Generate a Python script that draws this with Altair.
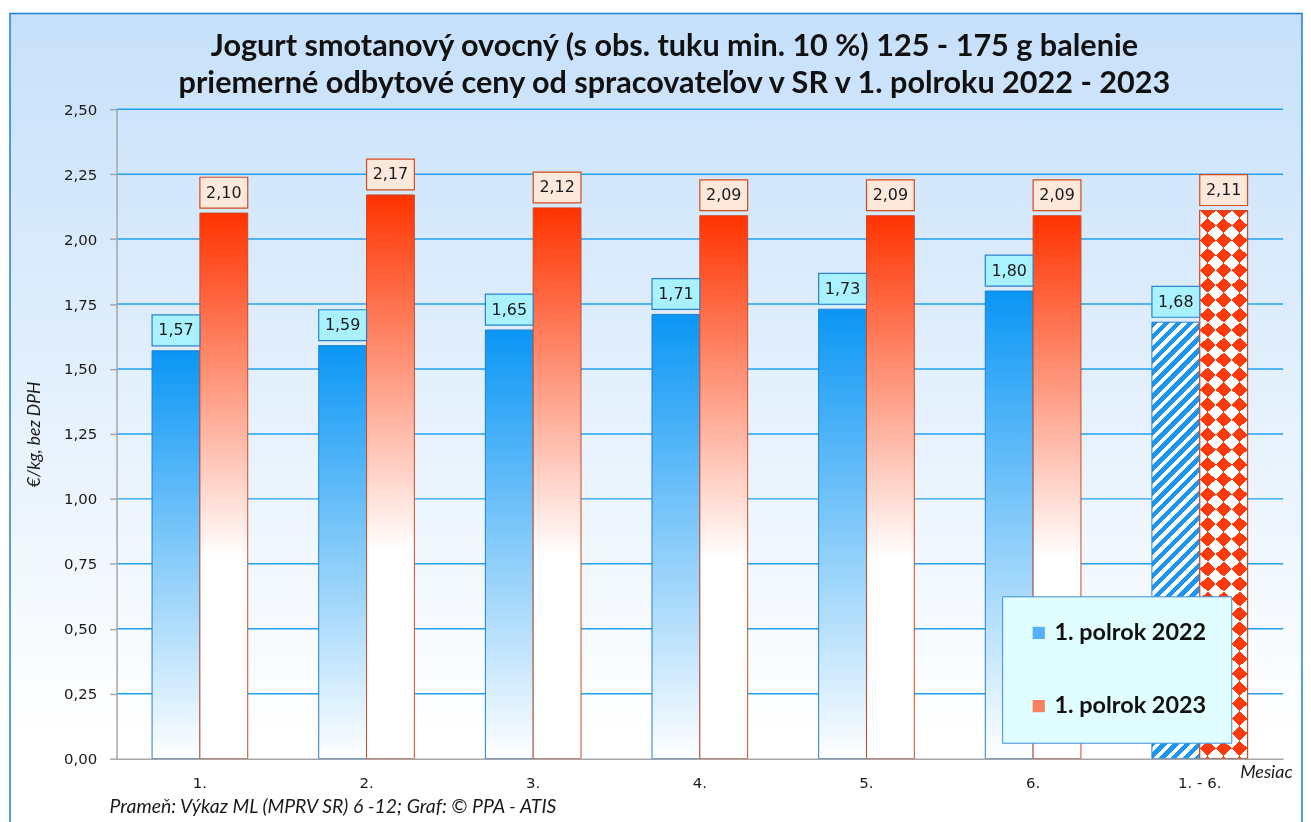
import math
import altair as alt
import pandas as pd

# ---------------- data ----------------
categories = ["1.", "2.", "3.", "4.", "5.", "6.", "1. - 6."]
series = ["1. polrok 2022", "1. polrok 2023"]
values_2022 = [1.57, 1.59, 1.65, 1.71, 1.73, 1.80, 1.68]
values_2023 = [2.10, 2.17, 2.12, 2.09, 2.09, 2.09, 2.11]
y_ticks = [0, 0.25, 0.5, 0.75, 1.0, 1.25, 1.5, 1.75, 2.0, 2.25, 2.5]
title_lines = [
    "Jogurt smotanový ovocný (s obs. tuku min. 10 %) 125 - 175 g balenie",
    "priemerné odbytové ceny od spracovateľov v SR v 1. polroku 2022 - 2023",
]
y_title = "€/kg, bez DPH"
x_title = "Mesiac"
source_text = "Prameň: Výkaz ML (MPRV SR) 6 -12; Graf: © PPA - ATIS"

rows = []
for vals, s in ((values_2022, series[0]), (values_2023, series[1])):
    for c, v in zip(categories, vals):
        rows.append({
            "cat": c, "series": s, "value": v,
            "label": f"{v:.2f}".replace(".", ","),
            "kind": "total" if c == "1. - 6." else "month",
        })
df = pd.DataFrame(rows)
grid_df = pd.DataFrame({"value": y_ticks[1:]})

# ---------------- layout / style ----------------
W, H = 1171, 652
Y_MAX = 2.5
P_IN, P_OUT = 0.426, 0.213
step = W / (len(categories) - P_IN + 2 * P_OUT)
bar_w = step * (1 - P_IN) / 2

BLUE = "#0a96f5"
RED = "#ff3300"


def lin(stops, x1=0, y1=0, x2=0, y2=1):
    return alt.LinearGradient(
        gradient="linear",
        stops=[alt.GradientStop(offset=o, color=c) for o, c in stops],
        x1=x1, y1=y1, x2=x2, y2=y2,
    )


def stripes(bw, bh, sh, sv, down, period, duty, shift, on, off):
    """Hard-edged stripe gradient in bar-box units; g = X/sh +/- Y/sv."""
    gmax = bw / sh + bh / sv
    dnorm = (bw / sh) ** 2 + (bh / sv) ** 2
    c = gmax / dnorm
    dx, dy = c * bw / sh, c * bh / sv
    if down:
        x1, y1, x2, y2 = 0, 0, dx, dy
    else:
        x1, y1, x2, y2 = 0, 1, dx, 1 - dy

    def col(g):
        f = ((g - shift) / period) % 1.0
        return on if f < duty else off

    edges = []
    k = math.floor((0 - shift) / period) - 1
    while shift + k * period < gmax:
        for e in (shift + k * period, shift + k * period + duty * period):
            if 0 < e < gmax:
                edges.append(e)
        k += 1
    edges.sort()
    st = [(0.0, col(0.0))]
    for e in edges:
        st.append((e / gmax, col(e - 1e-6)))
        st.append((e / gmax, col(e + 1e-6)))
    st.append((1.0, col(gmax)))
    return lin(st, x1, y1, x2, y2)


h22 = values_2022[-1] / Y_MAX * H
h23 = values_2023[-1] / Y_MAX * H
hatch_blue = stripes(bar_w, h22, 12, 12, True, 1.0, 0.55, 0.0, "#1e96f0", "#ffffff")
chk_a = stripes(bar_w, h23, 16, 15, True, 2.0, 0.5, 1.0, "#ffffff", "#000000")
chk_b = stripes(bar_w, h23, 16, 15, False, 2.0, 0.5, 1.0 + h23 / 15 % 2, "#ffffff", "#000000")

x_enc = alt.X(
    "cat:N", sort=categories,
    scale=alt.Scale(domain=categories, paddingInner=P_IN, paddingOuter=P_OUT),
    axis=alt.Axis(
        title=x_title, labelAngle=0, ticks=False, labelPadding=17, zindex=1,
        labelFont="DejaVu Sans", labelFontSize=15, labelColor="#1a1a1a",
        domainColor="#a6a6a6", domainWidth=1.5,
        titleFont="Lato", titleFontStyle="italic", titleFontWeight="normal",
        titleFontSize=18, titleColor="#1a1a1a", titleAlign="right",
        titleAnchor="end", titleX=1180, titleY=19, titleBaseline="alphabetic",
    ),
)
xo_enc = alt.XOffset("series:N", scale=alt.Scale(domain=series, paddingInner=0, paddingOuter=0))
y_enc = alt.Y(
    "value:Q", stack=None,
    scale=alt.Scale(domain=[0, Y_MAX], nice=False, zero=True),
    axis=alt.Axis(
        values=y_ticks, grid=False, title=y_title, zindex=1,
        labelExpr="replace(format(datum.value, '.2f'), '.', ',')",
        labelFont="DejaVu Sans", labelFontSize=15, labelColor="#1a1a1a",
        labelPadding=13, tickSize=7, tickColor="#a6a6a6", tickWidth=1.5,
        domainColor="#a6a6a6", domainWidth=1.5,
        titleFont="Lato", titleFontStyle="italic", titleFontWeight="normal",
        titleFontSize=17.5, titleColor="#1a1a1a", titlePadding=20,
    ),
)

base = alt.Chart(df)

bg = alt.Chart(pd.DataFrame({"k": [0]})).mark_rect(
    fill=lin([(0, "#c6e0fa"), (0.88, "#ffffff"), (1, "#ffffff")]),
    stroke="#1f7fd6", strokeWidth=1.5,
).encode(x=alt.value(-107), x2=alt.value(1190), y=alt.value(-96), y2=alt.value(730))

grid = alt.Chart(grid_df).mark_rule(color="#22a0f0", strokeWidth=1.5).encode(
    y=y_enc, x=alt.value(0), x2=alt.value(W)
)


def layer(kind, s, **mark):
    return base.transform_filter(
        (alt.datum.kind == kind) & (alt.datum.series == s)
    ).mark_bar(**mark).encode(x=x_enc, xOffset=xo_enc, y=y_enc)


blue_bars = layer("month", series[0],
                  fill=lin([(0, BLUE), (1, "#ffffff")]), stroke="#1f80d2", strokeWidth=1)
red_bars = layer("month", series[1],
                 fill=lin([(0, RED), (0.63, "#ffffff"), (1, "#ffffff")]), stroke="#cc4a25", strokeWidth=1)
blue_hatch = layer("total", series[0], fill=hatch_blue, stroke="#1f80d2", strokeWidth=1)
red_a = layer("total", series[1], fill=chk_a, strokeWidth=0)
red_b = layer("total", series[1], fill=chk_b, strokeWidth=0, blend="difference")
red_c = layer("total", series[1], fill="#ff3a0a", strokeWidth=0, blend="lighten")
red_d = layer("total", series[1], fillOpacity=0, stroke="#cc4a25", strokeWidth=1.2)


def boxes(s, fill, stroke):
    return base.transform_filter(alt.datum.series == s).mark_bar(
        fill=fill, stroke=stroke, strokeWidth=1.2, yOffset=-5, y2Offset=-36
    ).encode(x=x_enc, xOffset=xo_enc, y=y_enc, y2="value:Q")


box_blue = boxes(series[0], "#a9f1fd", "#2b82cf")
box_red = boxes(series[1], "#fde8dc", "#d24a1e")

labels = base.mark_text(
    dy=-20.5, baseline="middle", font="DejaVu Sans", fontSize=16, color="#1a1a1a"
).encode(x=x_enc, xOffset=xo_enc, y=y_enc, text="label:N")

legend_layer = base.mark_square(opacity=0).encode(
    color=alt.Color(
        "series:N",
        scale=alt.Scale(domain=series, range=["#55b0f5", "#f8805e"]),
        legend=alt.Legend(
            title=None, orient="none", legendX=889, legendY=489,
            fillColor="#e0feff", strokeColor="#3c8dd6", padding=25,
            rowPadding=48.5, symbolType="square", symbolSize=150,
            symbolOpacity=1, symbolStrokeWidth=1, labelFont="Lato",
            labelFontWeight="bold", labelFontSize=23.5, labelColor="#111111",
            labelLimit=400, labelOffset=4,
        ),
    )
)

source = alt.Chart(pd.DataFrame({"t": [source_text]})).mark_text(
    align="left", baseline="alphabetic", font="Lato", fontStyle="italic",
    fontSize=19.5, color="#1a1a1a",
).encode(text="t:N", x=alt.value(-7), y=alt.value(707))


def title_line(i, ypix):
    return alt.Chart(pd.DataFrame({"t": [title_lines[i]]})).mark_text(
        align="center", baseline="alphabetic", font="Lato", fontSize=30.7,
        fontWeight="bold", color="#111111",
    ).encode(text="t:N", x=alt.value(560), y=alt.value(ypix))


chart = alt.layer(
    bg, grid, blue_bars, red_bars, blue_hatch, red_a, red_b, red_c, red_d,
    box_blue, box_red, labels, legend_layer, source,
    title_line(0, -53), title_line(1, -16),
).properties(
    width=W, height=H,
    padding={"left": 109, "top": 100, "right": 20, "bottom": 62},
    autosize=alt.AutoSizeParams(type="none"),
).configure_view(stroke=None).configure(background="#ffffff")

chart.save("out.html", embed_options={"renderer": "svg", "actions": False})
